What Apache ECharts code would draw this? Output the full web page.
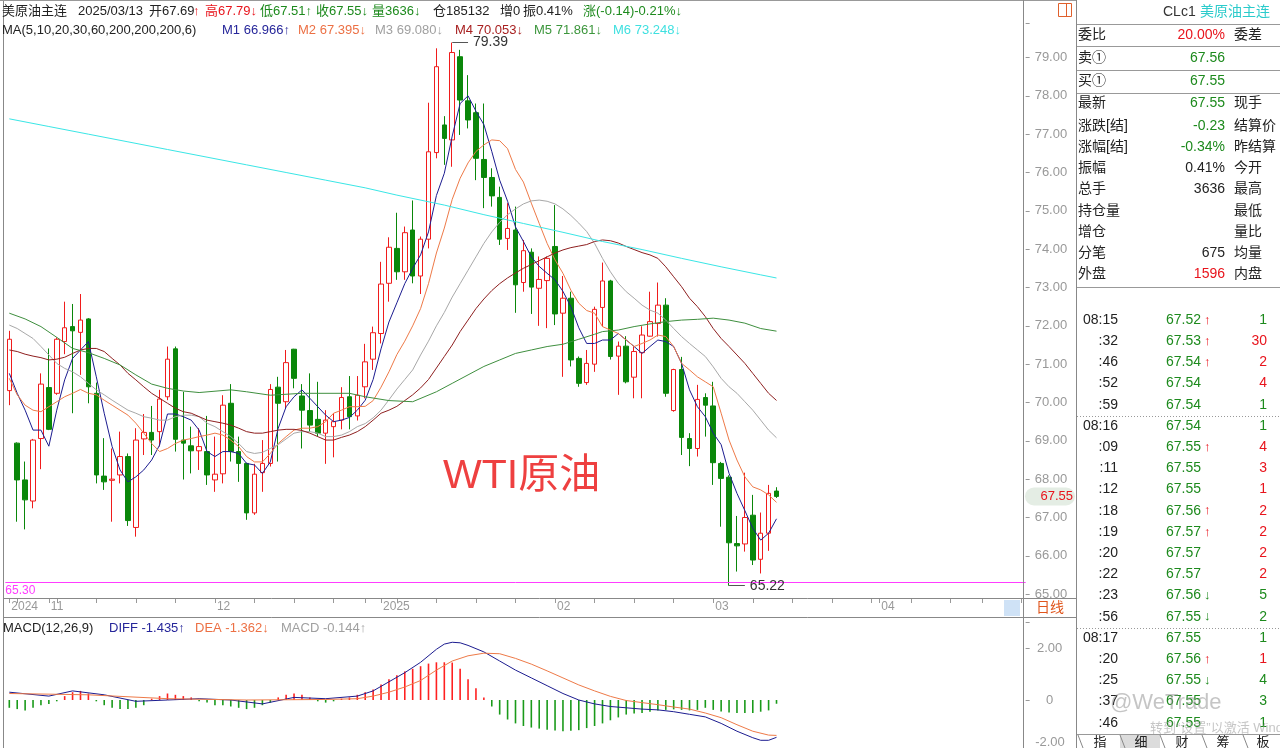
<!DOCTYPE html>
<html><head><meta charset="utf-8">
<script src="https://cdn.jsdelivr.net/npm/echarts/dist/echarts.min.js"></script>
<style>html,body{margin:0;padding:0;background:#fff;overflow:hidden}#c{width:1280px;height:748px}</style>
</head><body><div id="c"></div>
<script>
// ---------------- DATA ----------------
const opens  = [70.31,68.94,67.98,67.43,69.06,70.39,70.24,71.59,71.98,71.83,72.18,70.24,68.08,67.97,68.11,68.59,66.74,69.05,69.22,69.24,70.15,71.40,69.02,68.87,68.74,68.72,67.98,68.14,69.98,68.72,68.41,67.12,68.17,68.41,70.40,70.02,71.39,70.17,69.79,69.56,69.20,69.37,69.54,70.15,69.65,70.41,71.13,71.80,73.11,74.02,73.41,74.50,73.30,74.26,76.52,77.24,76.85,79.02,77.87,77.56,76.34,75.87,75.35,74.28,74.50,73.13,73.92,72.98,73.18,74.07,72.33,72.72,71.15,70.52,71.00,72.48,73.17,71.21,71.47,70.66,71.30,71.73,72.06,72.54,69.79,70.86,69.06,68.80,70.13,69.91,68.41,68.05,66.32,66.31,67.06,65.91,66.59,67.69];
const closes = [71.65,67.98,67.46,69.02,70.48,69.30,71.65,71.95,71.87,72.15,70.41,68.11,67.93,68.00,68.59,66.92,69.02,69.22,69.02,70.09,71.13,69.04,68.94,68.74,68.85,68.11,68.13,69.93,68.72,68.41,67.12,68.13,68.41,70.34,69.98,71.04,70.63,69.80,69.41,69.20,69.54,69.50,70.13,69.63,70.19,71.06,71.82,73.09,74.05,73.41,74.43,73.30,74.26,76.54,78.76,76.89,79.13,77.89,77.37,76.37,75.87,75.39,74.26,74.54,73.07,73.96,73.01,73.21,73.76,72.31,72.72,71.11,70.50,71.02,72.43,73.17,71.20,71.47,70.54,71.33,71.76,72.11,72.54,70.24,70.86,69.09,68.80,70.08,69.93,68.43,68.02,66.34,66.26,67.00,65.89,66.59,67.63,67.55];
const highs  = [71.87,68.96,68.46,69.05,70.76,71.41,71.70,72.63,72.57,72.83,72.20,70.52,69.07,68.80,69.24,68.67,69.33,69.70,69.91,70.33,71.46,71.46,70.28,69.37,69.33,69.65,69.11,70.19,70.48,69.11,68.43,68.40,69.02,70.48,70.67,71.37,71.40,70.48,70.76,70.54,69.80,69.72,70.40,70.69,70.69,71.53,71.98,73.67,74.31,74.95,74.59,75.27,74.33,77.82,79.24,77.47,79.39,79.20,78.54,77.80,77.80,76.11,75.63,75.20,75.11,74.24,74.02,73.81,73.81,75.15,73.30,72.89,71.20,71.37,72.50,73.65,73.20,71.59,71.73,71.46,71.99,72.89,73.13,72.72,70.88,71.19,69.20,70.46,70.24,70.54,68.45,68.10,67.04,68.17,67.59,67.13,67.85,67.79];
const lows   = [69.93,66.89,66.69,67.24,68.26,69.28,70.20,71.26,69.72,70.72,69.98,67.89,67.72,66.89,67.89,66.78,66.50,68.63,68.63,68.85,70.06,68.72,67.99,68.15,68.24,67.85,67.67,67.89,68.46,67.93,66.94,67.07,67.67,68.33,68.46,69.85,70.37,68.80,69.24,69.11,68.40,68.57,69.30,69.30,69.53,70.11,70.85,71.54,72.63,73.20,73.20,73.11,72.83,74.02,76.37,76.20,76.15,76.98,77.15,75.80,75.07,75.11,74.11,73.98,72.34,72.89,72.31,72.00,71.94,72.02,70.67,70.94,70.41,70.46,70.80,71.98,71.12,70.20,70.50,70.11,70.11,71.72,71.72,70.15,69.76,68.63,68.34,68.59,69.11,67.85,66.76,65.22,65.59,66.11,65.76,65.54,66.13,67.51];

const ma5  = [70.76,70.24,69.80,69.28,69.28,68.86,69.80,70.59,71.15,71.37,71.59,70.67,69.72,68.85,68.24,67.93,68.06,68.24,68.50,68.89,69.70,69.70,69.63,69.54,69.28,68.72,68.59,68.72,68.72,68.67,68.41,68.37,68.15,68.45,69.33,69.89,70.15,70.33,70.11,69.89,69.67,69.50,69.54,69.61,69.80,70.06,70.60,71.40,72.10,72.60,73.10,73.50,73.85,74.45,75.40,75.98,76.95,77.80,78.00,77.60,77.25,76.55,75.80,75.25,74.58,74.20,73.80,73.55,73.37,73.20,72.90,72.50,71.95,71.54,71.54,71.63,71.63,71.80,71.63,71.46,71.28,71.46,71.63,71.59,71.46,71.02,70.33,69.89,69.63,69.20,68.90,68.15,67.63,67.18,66.72,66.41,66.59,66.966];
const ma10 = [70.63,70.20,69.93,69.80,69.76,69.89,70.02,70.15,70.24,70.34,70.24,70.20,70.06,69.93,69.80,69.67,69.46,69.20,68.93,68.72,68.80,68.93,69.02,69.06,69.11,69.15,69.20,69.15,69.02,68.85,68.59,68.45,68.45,68.67,68.93,69.11,69.28,69.33,69.33,69.37,69.50,69.72,69.80,69.89,69.89,69.90,70.05,70.40,70.80,71.25,71.60,72.00,72.45,73.10,73.90,74.55,75.30,75.85,76.25,76.55,76.72,76.85,76.83,76.62,76.08,75.75,75.20,74.67,74.15,73.72,73.37,72.93,72.59,72.40,72.33,71.98,71.89,71.80,71.63,71.46,71.54,71.63,71.76,71.72,71.46,71.02,70.85,70.67,70.54,70.41,69.72,69.02,68.50,68.06,67.80,67.72,67.59,67.395];
const ma20 = [72.02,71.93,71.80,71.67,71.46,71.24,71.02,70.89,70.80,70.67,70.50,70.33,70.20,70.06,69.93,69.80,69.72,69.63,69.59,69.54,69.54,69.63,69.67,69.67,69.63,69.46,69.37,69.24,69.11,68.93,68.72,68.67,68.70,68.80,68.90,69.05,69.20,69.24,69.24,69.20,69.11,69.11,69.15,69.24,69.37,69.45,69.60,69.80,70.07,70.35,70.60,70.85,71.24,71.60,72.00,72.35,72.75,73.10,73.45,73.80,74.15,74.45,74.70,74.90,75.05,75.18,75.26,75.28,75.25,75.18,75.05,74.88,74.68,74.46,74.15,73.76,73.41,73.11,72.89,72.72,72.54,72.41,72.33,72.15,71.93,71.72,71.54,71.37,71.20,70.93,70.63,70.41,70.24,70.02,69.80,69.54,69.28,69.08];
const ma30 = [71.37,71.33,71.26,71.21,71.17,71.11,71.13,71.18,71.28,71.37,71.41,71.41,71.33,71.15,70.98,70.76,70.59,70.41,70.24,70.11,69.98,69.85,69.76,69.72,69.63,69.54,69.50,69.46,69.41,69.33,69.24,69.20,69.20,69.24,69.28,69.30,69.30,69.27,69.20,69.11,69.02,69.02,69.09,69.15,69.24,69.37,69.54,69.72,69.80,69.90,70.05,70.20,70.38,70.60,70.90,71.20,71.50,71.85,72.15,72.45,72.70,72.92,73.10,73.25,73.38,73.50,73.60,73.70,73.80,73.90,73.98,74.04,74.08,74.12,74.20,74.24,74.22,74.16,74.07,73.99,73.91,73.85,73.76,73.54,73.28,73.02,72.72,72.50,72.24,71.93,71.67,71.46,71.24,71.02,70.76,70.50,70.24,70.053];
// [candle index, value] read at sampled candles
const ma60  = [[0,72.33],[2,72.18],[4,71.98],[6,71.70],[8,71.41],[10,71.30],[12,71.15],[14,70.98],[16,70.72],[18,70.48],[20,70.37],[22,70.30],[24,70.26],[28,70.33],[30,70.28],[33,70.19],[37,70.24],[43,70.24],[45,70.15],[48,70.05],[51,70.02],[54,70.28],[56,70.50],[58,70.72],[60,70.94],[62,71.11],[64,71.28],[66,71.37],[68,71.46],[70,71.52],[72,71.65],[74,71.78],[75,71.85],[77,71.89],[79,71.98],[81,72.05],[83,72.11],[85,72.15],[87,72.17],[89,72.20],[91,72.15],[93,72.07],[95,71.93],[97,71.861]];
const ma200 = [[0,77.40],[5,77.20],[10,77.00],[15,76.80],[20,76.60],[25,76.40],[30,76.20],[35,76.00],[40,75.80],[45,75.60],[49,75.41],[55,75.15],[60,74.90],[65,74.67],[70,74.44],[75,74.20],[80,73.99],[85,73.76],[90,73.54],[95,73.33],[97,73.248]];

const diff = [[0,0.30],[5,0.15],[8,0.35],[12,0.20],[16,-0.05],[20,0.00],[24,0.05],[28,0.00],[32,-0.15],[36,0.10],[40,0.05],[44,0.15],[46,0.35],[48,0.70],[50,1.05],[52,1.45],[54,1.95],[55,2.15],[56,2.22],[57,2.20],[58,2.10],[60,1.85],[62,1.50],[64,1.15],[66,0.85],[68,0.55],[70,0.25],[72,0.00],[74,-0.15],[76,-0.25],[78,-0.30],[80,-0.35],[82,-0.38],[84,-0.45],[86,-0.55],[88,-0.65],[90,-0.90],[92,-1.20],[94,-1.45],[95,-1.55],[96,-1.55],[97,-1.435]];
const dea  = [[0,0.25],[10,0.20],[20,0.05],[30,0.00],[40,0.02],[44,0.05],[46,0.15],[48,0.30],[50,0.50],[52,0.75],[54,1.15],[56,1.50],[58,1.70],[60,1.80],[62,1.78],[64,1.60],[66,1.38],[68,1.12],[70,0.85],[72,0.58],[74,0.35],[76,0.14],[78,-0.02],[80,-0.10],[82,-0.18],[84,-0.27],[86,-0.35],[88,-0.50],[90,-0.68],[92,-0.95],[94,-1.20],[96,-1.35],[97,-1.362]];
const macd = [-0.30,-0.35,-0.40,-0.30,-0.20,-0.15,-0.05,0.15,0.30,0.35,0.25,-0.05,-0.20,-0.30,-0.35,-0.35,-0.30,-0.20,0.05,0.15,0.25,0.20,0.15,0.10,-0.05,-0.10,-0.20,-0.20,-0.25,-0.30,-0.35,-0.30,-0.20,-0.10,0.10,0.20,0.25,0.20,0.10,-0.05,-0.10,-0.05,0.05,0.10,0.20,0.30,0.40,0.60,0.80,0.95,1.10,1.20,1.30,1.40,1.45,1.45,1.44,1.20,0.80,0.45,0.10,-0.25,-0.56,-0.75,-0.90,-1.00,-1.06,-1.10,-1.14,-1.17,-1.20,-1.18,-1.16,-1.08,-1.00,-0.90,-0.78,-0.67,-0.56,-0.52,-0.50,-0.45,-0.40,-0.38,-0.36,-0.38,-0.40,-0.38,-0.30,-0.38,-0.44,-0.48,-0.50,-0.50,-0.50,-0.45,-0.40,-0.144];

const priceTicks = [65,66,67,68,69,70,71,72,73,74,75,76,77,78,79];
const macdTicks = [2, 0, -2];
const alertLine = 65.30, highMark = [56, 79.39], lowMark = [91, 65.22], lastPrice = 67.55;

const headerLine1 = [['美原油主连','k'],['2025/03/13','k'],['开67.69','k'],['↑','r'],['高67.79↓','r'],['低67.51↑','g'],['收67.55↓','g'],['量3636↓','g'],['仓185132','k'],['增0','k'],['振0.41%','k'],['涨(-0.14)-0.21%↓','g']];
const headerLine2 = [['MA(5,10,20,30,60,200,200,200,6)','k'],['M1 66.966↑','m1'],['M2 67.395↓','m2'],['M3 69.080↓','m3'],['M4 70.053↓','m4'],['M5 71.861↓','m5'],['M6 73.248↓','m6']];
const macdHeader = [['MACD(12,26,9)','k'],['DIFF -1.435↑','m1'],['DEA -1.362↓','m2'],['MACD -0.144↑','m3']];

const quoteRows = [['委比','20.00%','r','委差'],['卖①','67.56','g',''],['买①','67.55','g',''],['最新','67.55','g','现手'],['涨跌[结]','-0.23','g','结算价'],['涨幅[结]','-0.34%','g','昨结算'],['振幅','0.41%','k','今开'],['总手','3636','k','最高'],['持仓量','','k','最低'],['增仓','','k','量比'],['分笔','675','k','均量'],['外盘','1596','r','内盘']];
const ticks = [['08:15','67.52','↑','1','g'],[':32','67.53','↑','30','r'],[':46','67.54','↑','2','r'],[':52','67.54','','4','r'],[':59','67.54','','1','g'],['08:16','67.54','','1','g'],[':09','67.55','↑','4','r'],[':11','67.55','','3','r'],[':12','67.55','','1','r'],[':18','67.56','↑','2','r'],[':19','67.57','↑','2','r'],[':20','67.57','','2','r'],[':22','67.57','','2','r'],[':23','67.56','↓','5','g'],[':56','67.55','↓','2','g'],['08:17','67.55','','1','g'],[':20','67.56','↑','1','r'],[':25','67.55','↓','4','g'],[':37','67.55','','3','g'],[':46','67.55','','1','g']];
const tabs = ['指','细','财','筹','板'];

// ---------------- LAYOUT / STYLE ----------------
const FF = '"Liberation Sans", Arial, "Noto Sans CJK SC", sans-serif';
const C = {k:'#222222', r:'#e8141c', g:'#1d8a1d', m1:'#26269a', m2:'#ec7044', m3:'#a0a0a0', m4:'#a82020', m5:'#3c963c', m6:'#3fe0e0'};
const lineCol = {m1:'#1c1c90', m2:'#ee7a48', m3:'#a8a8a8', m4:'#8e1f1f', m5:'#3f8f3f', m6:'#3ae6e6'};

const holidays = ['2024-12-25','2025-01-01','2025-04-18'];
const dates = [];
for (let d = new Date(Date.UTC(2024,9,25)); dates.length < 129; d.setUTCDate(d.getUTCDate()+1)) {
  const wd = d.getUTCDay(); if (wd === 0 || wd === 6) continue;
  const s = d.toISOString().slice(0,10); if (holidays.includes(s)) continue;
  dates.push(s);
}
const monthStart = i => i === 0 || dates[i].slice(5,7) !== dates[i-1].slice(5,7);
const weekStart = i => i === 0 || new Date(dates[i]).getUTCDay() <= new Date(dates[i-1]).getUTCDay() || monthStart(i);

const candleData = opens.map((o,i) => [o, closes[i], lows[i], highs[i]]);

const G = []; // graphic
function txt(x, y, text, fill, size, align) {
  G.push({type:'text', x:x, y:y, silent:true, z:100, style:{text:text, fill:fill, font: size + 'px ' + FF, textAlign: align || 'left', textVerticalAlign:'middle'}});
}
function ln(x1, y1, x2, y2, stroke, dash) {
  G.push({type:'line', silent:true, z:90, shape:{x1:x1,y1:y1,x2:x2,y2:y2}, style:{stroke:stroke, lineWidth:1, lineDash: dash || null}});
}
function rect(x, y, w, h, fill, stroke, r) {
  G.push({type:'rect', silent:true, z:80, shape:{x:x,y:y,width:w,height:h,r:r||0}, style:{fill:fill || 'none', stroke: stroke || null, lineWidth:1}});
}

// borders
ln(3.5, 0, 3.5, 748, '#888');
ln(0, 0.5, 1076, 0.5, '#999');
ln(1023.5, 0, 1023.5, 748, '#888');
ln(1076.5, 0, 1076.5, 748, '#888');
ln(3, 598.5, 1076, 598.5, '#888');
ln(3, 617.5, 1076, 617.5, '#888');
rect(1004, 600, 16, 16, '#cfe2f6');
txt(1050, 608, '日线', '#e0551c', 14, 'center');
// icon
rect(1058.5, 3.5, 13, 13, null, '#e0602c');
ln(1066.5, 3.5, 1066.5, 16.5, '#e0602c');

// headers
const h1x = [2,78,149,193,205,260,316,372,433,500,523,583];
headerLine1.forEach((s,i) => txt(h1x[i], 11, s[0], C[s[1]], 13));
const h2x = [2,222,298,375,455,534,613];
headerLine2.forEach((s,i) => txt(h2x[i], 30, s[0], C[s[1]], 13));
const mhx = [3,109,195,281];
macdHeader.forEach((s,i) => txt(mhx[i], 628, s[0], C[s[1]], 13));

// WTI label
txt(443, 477, 'WTI原油', '#ee4040', 41);

// right panel
txt(1163, 12, 'CLc1', '#333', 14);
txt(1200, 12, '美原油主连', '#2ccbcb', 14);
[24.5, 46.5, 70.5, 93.5, 287.5].forEach(y => ln(1077, y, 1280, y, '#999'));
const qy = [35,58,81,103,126,147,168,189,211,232,253,274];
quoteRows.forEach((r,i) => {
  txt(1078, qy[i], r[0], '#222', 14);
  if (r[1]) txt(1225, qy[i], r[1], C[r[2]], 14, 'right');
  if (r[3]) txt(1234, qy[i], r[3], '#222', 14);
});
ticks.forEach((t,i) => {
  const y = 320 + i*21.2;
  txt(1118, y, t[0], '#222', 14, 'right');
  txt(1166, y, t[1], C.g, 14);
  if (t[2]) txt(1204, y, t[2], t[2] === '↑' ? C.r : C.g, 13);
  txt(1267, y, t[3], C[t[4]], 14, 'right');
});
ln(1077, 416.5, 1280, 416.5, '#999', [1,2]);
ln(1077, 628.5, 1280, 628.5, '#999', [1,2]);
// watermark
txt(1110, 703, '@WeTrade', 'rgba(150,150,150,0.55)', 22);
txt(1150, 728, '转到“设置”以激活 Windows', 'rgba(160,160,160,0.6)', 13);
// tabs
rect(1120, 735, 40, 13, '#dcdcdc');
ln(1077, 734.5, 1280, 734.5, '#999');
const tabx = [1100,1141,1182,1223,1263];
tabs.forEach((t,i) => txt(tabx[i], 742, t, '#222', 13, 'center'));
[1078,1120,1160,1202,1243].forEach(x => { ln(x, 735, x+5, 748, '#888'); });

// ---------------- CHART ----------------
const chart = echarts.init(document.getElementById('c'), null, {renderer:'canvas'});
const gl = 5.35, gw = 1020.3;
const maSeries = [[ma5,'m1'],[ma10,'m2'],[ma20,'m3'],[ma30,'m4'],[ma60,'m5'],[ma200,'m6']].map(([d,k]) => ({
  type:'line', data:d, xAxisIndex:0, yAxisIndex:0, showSymbol:false, connectNulls:true, silent:true, z:5,
  lineStyle:{color:lineCol[k], width:1}
}));

chart.setOption({
  animation:false,
  backgroundColor:'#ffffff',
  textStyle:{fontFamily:FF},
  grid:[
    {left:gl, top:23, width:gw, height:575},
    {left:gl, top:622, width:gw, height:126}
  ],
  xAxis:[
    {type:'category', gridIndex:0, data:dates, boundaryGap:true,
      axisLine:{show:false},
      axisTick:{show:true, alignWithLabel:true, length:5, interval:(i)=>weekStart(i), lineStyle:{color:'#999'}},
      axisLabel:{interval:(i)=>monthStart(i), align:'left', margin:3, padding:[0,0,0,2], color:'#999', fontSize:12, fontFamily:FF,
        formatter:(v,i)=> i===0 ? '2024' : (v.slice(5,7)==='01' ? v.slice(0,4) : v.slice(5,7))},
      splitLine:{show:false}},
    {type:'category', gridIndex:1, data:dates, boundaryGap:true, show:false}
  ],
  yAxis:[
    {type:'value', gridIndex:0, position:'right', min:64.9, max:79.9, splitNumber:15,
      axisLine:{show:false}, splitLine:{show:false},
      axisTick:{show:true, length:4, lineStyle:{color:'#999'}},
      axisLabel:{margin:9, color:'#999', fontSize:13, fontFamily:FF, align:'left',
        formatter:(v)=> priceTicks.some(t=>Math.abs(t-v)<1e-6) ? v.toFixed(2) : ''}},
    {type:'value', gridIndex:1, position:'right', min:-1.846, max:3, splitNumber:2,
      axisLine:{show:false}, splitLine:{show:false},
      axisTick:{show:true, length:4, lineStyle:{color:'#999'}},
      axisLabel:{margin:24, color:'#999', fontSize:13, fontFamily:FF, align:'center',
        formatter:(v)=> Math.abs(v)<1e-9 ? '0' : (macdTicks.some(t=>Math.abs(t-v)<1e-9) ? v.toFixed(2) : '')}}
  ],
  series:[
    {type:'candlestick', data:candleData, xAxisIndex:0, yAxisIndex:0, barWidth:5, silent:true, z:3,
      itemStyle:{color:'#ffffff', color0:'#0a870a', borderColor:'#f01c1c', borderColor0:'#0a870a', borderWidth:1},
      markLine:{silent:true, symbol:'none', animation:false,
        data:[
          {yAxis:alertLine, lineStyle:{color:'#ff3cff', width:1, type:'solid'},
            label:{show:true, position:'insideStartBottom', formatter:'65.30', color:'#ff3cff', fontSize:12, distance:[0,2]}},
          [{coord:[highMark[0], highMark[1]], lineStyle:{color:'#555', width:1, type:'solid'}, label:{show:true, position:'end', formatter:'79.39', color:'#333', fontSize:14}},
           {coord:[highMark[0]+2, highMark[1]]}],
          [{coord:[lowMark[0], lowMark[1]], lineStyle:{color:'#555', width:1, type:'solid'}, label:{show:true, position:'end', formatter:'65.22', color:'#333', fontSize:14}},
           {coord:[lowMark[0]+2, lowMark[1]]}]
        ]}
    },
    ...maSeries,
    {type:'bar', data:macd, xAxisIndex:1, yAxisIndex:1, barWidth:1.6, silent:true,
      itemStyle:{color:(p)=> p.value >= 0 ? '#ff2020' : '#1a9a1a'}},
    {type:'line', data:diff, xAxisIndex:1, yAxisIndex:1, showSymbol:false, silent:true, lineStyle:{color:lineCol.m1, width:1}, z:5},
    {type:'line', data:dea, xAxisIndex:1, yAxisIndex:1, showSymbol:false, silent:true, lineStyle:{color:lineCol.m2, width:1}, z:5}
  ],
  graphic: G
});

// current-price pill on the price axis and the clipped -2.00 MACD label, placed through the library's scales
const py = chart.convertToPixel({xAxisIndex:0, yAxisIndex:0}, [97, lastPrice])[1];
const my = chart.convertToPixel({xAxisIndex:1, yAxisIndex:1}, [0, -2])[1];
rect(1025, py - 9, 50, 18, '#e4ede4', null, 9);
txt(1073, py, '67.55', '#e8141c', 13, 'right');
txt(1050, Math.min(my, 742), '-2.00', '#999', 13, 'center');
chart.setOption({graphic: G});
</script>
</body></html>
